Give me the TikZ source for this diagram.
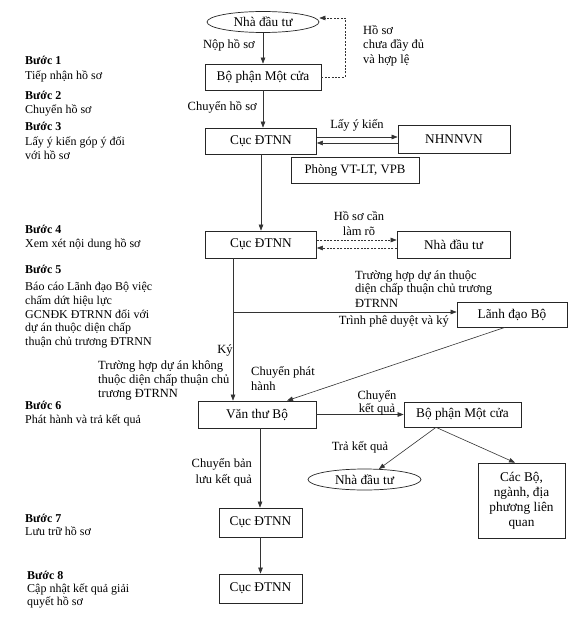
\documentclass[tikz,border=0pt]{standalone}
\usepackage{fontspec}
\setmainfont{Liberation Serif}
\usetikzlibrary{arrows.meta,shapes.geometric}
\begin{document}
\begin{tikzpicture}[x=1pt,y=-1pt,
  box/.style={draw=black!85, line width=0.7pt, inner sep=0pt, font=\fontsize{13.3}{15}\selectfont},
  ell/.style={draw=black!85, ellipse, line width=0.7pt, inner sep=0pt, font=\fontsize{13.3}{15}\selectfont},
  arr/.style={draw=black!80, line width=0.6pt, -{Triangle[length=6pt,width=4.5pt]}},
  dsh/.style={dash pattern=on 2pt off 1.4pt},
  lbl/.style={inner sep=0pt, font=\fontsize{12.5}{14}\selectfont},
  stp/.style={inner sep=0pt, anchor=mid west, font=\fontsize{12}{14}\selectfont},
  stpb/.style={stp, font=\fontsize{12}{14}\selectfont\bfseries}]
\useasboundingbox (0,0) rectangle (576,631);
\fill[white] (0,0) rectangle (576,631);

% ---- left column: steps ----
\node[stpb] (b1) at (25,62) {Bước 1};
\node[stp] (b1a) at (25,77) {Tiếp nhận hồ sơ};
\node[stpb] (b2) at (25,97) {Bước 2};
\node[stp] (b2a) at (25,111) {Chuyển hồ sơ};
\node[stpb] (b3) at (25,128) {Bước 3};
\node[stp] (b3a) at (25,143) {Lấy ý kiến góp ý đối};
\node[stp] (b3b) at (25,157) {với hồ sơ};
\node[stpb] (b4) at (25,231) {Bước 4};
\node[stp] (b4a) at (25,245) {Xem xét nội dung hồ sơ};
\node[stpb] (b5) at (25,271) {Bước 5};
\node[stp] (b5a) at (25,288) {Báo cáo Lãnh đạo Bộ việc};
\node[stp] (b5b) at (25,302) {chấm dứt hiệu lực};
\node[stp] (b5c) at (25,316) {GCNĐK ĐTRNN đối với};
\node[stp] (b5d) at (25,329) {dự án thuộc diện chấp};
\node[stp] (b5e) at (25,343) {thuận chủ trương ĐTRNN};
\node[stpb] (b6) at (25,407) {Bước 6};
\node[stp] (b6a) at (25,421) {Phát hành và trả kết quả};
\node[stpb] (b7) at (25,520) {Bước 7};
\node[stp] (b7a) at (25,533) {Lưu trữ hồ sơ};
\node[stpb] (b8) at (27,577) {Bước 8};
\node[stp] (b8a) at (27,590) {Cập nhật kết quả giải};
\node[stp] (b8b) at (27,603) {quyết hồ sơ};

% ---- flow nodes ----
\node[ell, minimum width=112pt, minimum height=21pt] (nd1) at (263,22) {Nhà đầu tư};
\node[box, minimum width=116pt, minimum height=26pt] (bp1) at (263,77) {Bộ phận Một cửa};
\node[box, minimum width=111pt, minimum height=26pt] (cuc1) at (261,141) {Cục ĐTNN};
\node[box, minimum width=112pt, minimum height=28pt] (nh) at (454,139) {NHNNVN};
\node[box, minimum width=128pt, minimum height=26pt, font=\fontsize{12.8}{15}\selectfont] (pvt) at (355,170) {Phòng VT-LT, VPB};
\node[box, minimum width=111pt, minimum height=27pt] (cuc2) at (261,244.5) {Cục ĐTNN};
\node[box, minimum width=113pt, minimum height=27pt] (nd2) at (453.5,244.5) {Nhà đầu tư};
\node[box, minimum width=110pt, minimum height=25pt] (ld) at (512,314.5) {Lãnh đạo Bộ};
\node[box, minimum width=118pt, minimum height=27pt] (vt) at (257,414.5) {Văn thư Bộ};
\node[box, minimum width=117pt, minimum height=25pt] (bp2) at (462.5,414.5) {Bộ phận Một cửa};
\node[ell, minimum width=113pt, minimum height=21pt] (nd3) at (364.5,479.5) {Nhà đầu tư};
\node[box, minimum width=87pt, minimum height=75pt, align=center] (cb) at (521.5,500.5) {Các Bộ,\\ngành, địa\\phương liên\\quan};
\node[box, minimum width=83pt, minimum height=29pt] (cuc3) at (260.5,522.5) {Cục ĐTNN};
\node[box, minimum width=83pt, minimum height=29pt] (cuc4) at (260.5,588.5) {Cục ĐTNN};

% ---- connectors ----
\draw[arr] (nd1.south) -- (bp1.north);
\coordinate (dc) at (345,18);
\draw[arr, dsh] (bp1.east) -- (bp1.east -| dc) -- (dc) -- (dc -| nd1.east);
\draw[arr] (bp1.south) -- (bp1.south |- cuc1.north);
\coordinate (c1a) at ([yshift=4pt]cuc1.east);
\coordinate (c1b) at ([yshift=-2pt]cuc1.east);
\draw[arr] (c1a) -- (c1a -| nh.west);
\draw[arr] (c1b -| nh.west) -- (c1b);
\draw[arr] (cuc1.south) -- (cuc2.north);
\coordinate (c2a) at ([yshift=4.5pt]cuc2.east);
\coordinate (c2b) at ([yshift=-3.5pt]cuc2.east);
\draw[arr, dsh] (c2a) -- (c2a -| nd2.west);
\draw[arr, dsh] (c2b -| nd2.west) -- (c2b);
\coordinate (k) at ([xshift=-28pt]cuc2.south);
\draw[arr] (k) -- (k |- vt.north);
\coordinate (br) at (233,312);
\draw[arr] (br) -- (br -| ld.west);
\draw[arr] ([xshift=-7pt]ld.south) -- ([xshift=30pt]vt.north);
\draw[arr] (vt.east) -- (bp2.west);
\coordinate (ap) at ([xshift=-26.5pt]bp2.south);
\draw[arr] (ap) -- (nd3);
\draw[arr] (ap) -- ([xshift=-6.5pt]cb.north);
\coordinate (v3) at ([xshift=3pt]vt.south);
\draw[arr] (v3) -- (v3 |- cuc3.north);
\draw[arr] (cuc3) -- (cuc4);

% ---- connector labels ----
\node[lbl, anchor=mid east] (l1) at (255,46) {Nộp hồ sơ};
\node[lbl, anchor=mid west] (l2a) at (363,32) {Hồ sơ};
\node[lbl, anchor=mid west] (l2b) at (363,46) {chưa đầy đủ};
\node[lbl, anchor=mid west] (l2c) at (363,61) {và hợp lệ};
\node[lbl, anchor=mid east] (l3) at (257,108) {Chuyển hồ sơ};
\node[lbl, anchor=mid] (l4) at (357,126) {Lấy ý kiến};
\node[lbl, anchor=mid] (l5a) at (359,218) {Hồ sơ cần};
\node[lbl, anchor=mid] (l5b) at (359,233) {làm rõ};
\node[lbl, anchor=mid west] (l6a) at (355,277) {Trường hợp dự án thuộc};
\node[lbl, anchor=mid west] (l6b) at (355,290) {diện chấp thuận chủ trương};
\node[lbl, anchor=mid west] (l6c) at (355,305) {ĐTRNN};
\node[lbl, anchor=mid east] (l7) at (449,322) {Trình phê duyệt và ký};
\node[lbl, anchor=mid] (l8) at (225,351) {Ký};
\node[lbl, anchor=mid west] (l9a) at (98,367) {Trường hợp dự án không};
\node[lbl, anchor=mid west] (l9b) at (98,381) {thuộc diện chấp thuận chủ};
\node[lbl, anchor=mid west] (l9c) at (98,395) {trương ĐTRNN};
\node[lbl, anchor=mid west] (l10a) at (251,373) {Chuyển phát};
\node[lbl, anchor=mid west] (l10b) at (251,388) {hành};
\node[lbl, anchor=mid] (l11a) at (377,397) {Chuyển};
\node[lbl, anchor=mid] (l11b) at (377,410) {kết quả};
\node[lbl, anchor=mid] (l12) at (360,448) {Trả kết quả};
\node[lbl, anchor=mid east] (l13a) at (252,465) {Chuyển bản};
\node[lbl, anchor=mid east] (l13b) at (252,481) {lưu kết quả};
\end{tikzpicture}
\end{document}
